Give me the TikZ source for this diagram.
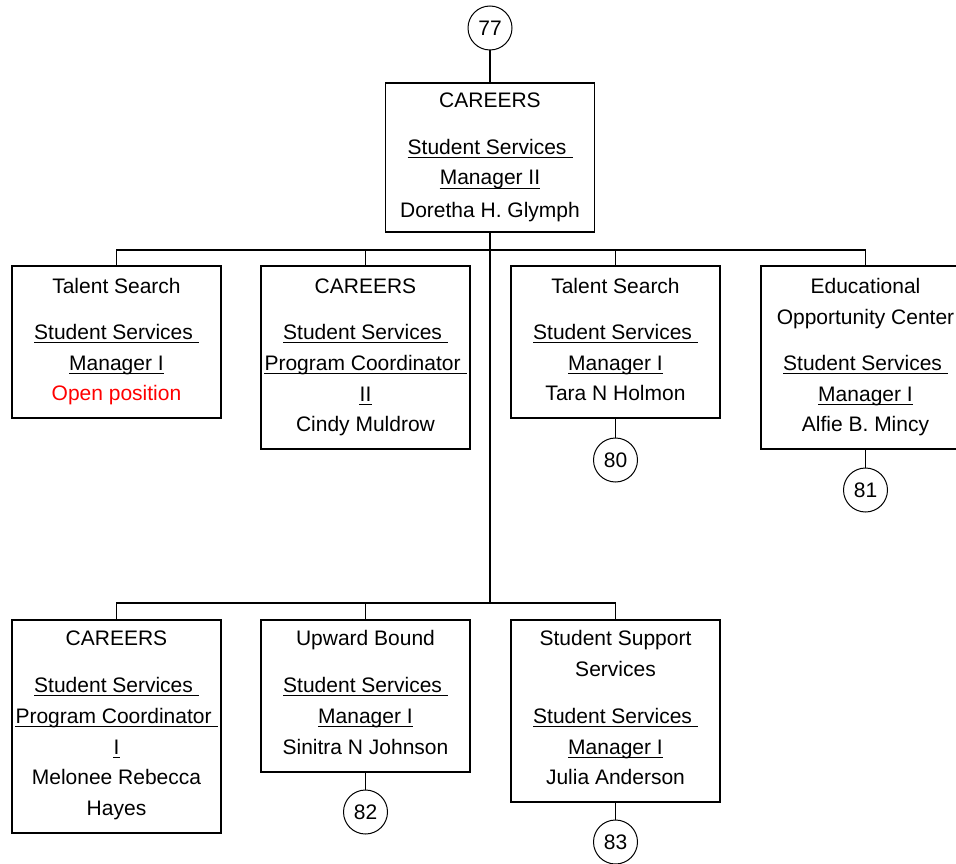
\documentclass[tikz,border=0pt]{standalone}
\usepackage{fontspec}
\setmainfont{Liberation Sans}
\tikzset{
  box/.style={draw, rectangle, line width=1.8pt, minimum width=209pt, inner sep=0pt},
  conn/.style={line width=1.8pt},
  circ/.style={draw, circle, line width=1pt, minimum size=44pt, inner sep=0pt, fill=white, font=\fontsize{21}{25}\selectfont},
  txt/.style={anchor=base, inner sep=0pt, font=\fontsize{21}{25}\selectfont},
  ulstyle/.style={line width=1.3pt},
}
\newcommand\trsp{\kern0.278em}
\newcommand\txtline[4]{\node[txt] (#1) at (#2,#3+7) {#4};}
\newcommand\ulline[4]{\node[txt] (#1) at (#2,#3+7) {#4};
  \draw[ulstyle] ([yshift=-3.5pt]#1.base west) -- ([yshift=-3.5pt]#1.base east);}
\begin{document}
\begin{tikzpicture}[x=1pt,y=-1pt]
\useasboundingbox (0,0) rectangle (956,864);
\clip (0,0) rectangle (956,864);
% boxes
\node[box, minimum height=149pt] (top) at (490,157.5) {};
\node[box, minimum height=152pt] (A) at (116.5,342) {};
\node[box, minimum height=183pt] (B) at (365.5,357.5) {};
\node[box, minimum height=152pt] (C) at (615.5,342) {};
\node[box, minimum height=183pt] (D) at (865.5,357.5) {};
\node[box, minimum height=213pt] (E) at (116.5,726.5) {};
\node[box, minimum height=152pt] (F) at (365.5,696) {};
\node[box, minimum height=182pt] (G) at (615.5,711) {};
% circles
\node[circ] (c77) at (490,28) {77};
\node[circ] (c80) at (615.5,460) {80};
\node[circ] (c81) at (865.5,490) {81};
\node[circ] (c82) at (365.5,812) {82};
\node[circ] (c83) at (615.5,842) {83};
% junctions
\coordinate (bus1) at (490,250);
\coordinate (bus2) at (490,603);
% connectors
\draw[conn] (c77.south) -- (top.north);
\draw[conn] (top.south) -- (bus2);
\draw[conn] (A.north) |- (bus1) -| (D.north);
\draw[conn] (B.north) -- (B.north |- bus1);
\draw[conn] (C.north) -- (C.north |- bus1);
\draw[conn] (E.north) |- (bus2) -| (G.north);
\draw[conn] (F.north) -- (F.north |- bus2);
\draw[conn] (C.south) -- (c80.north);
\draw[conn] (D.south) -- (c81.north);
\draw[conn] (F.south) -- (c82.north);
\draw[conn] (G.south) -- (c83.north);
% top box text
\txtline{t1}{490}{101}{CAREERS}
\ulline{t2}{490}{147}{Student Services\trsp}
\ulline{t3}{490}{178}{Manager II}
\txtline{t4}{490}{210}{Doretha H. Glymph}
% A
\txtline{a1}{116.5}{286}{Talent Search}
\ulline{a2}{116.5}{332}{Student Services\trsp}
\ulline{a3}{116.5}{363}{Manager I}
\node[txt, text=red] (a4) at (116.5,400) {Open position};
% B
\txtline{b1}{365.5}{286}{CAREERS}
\ulline{b2}{365.5}{332}{Student Services\trsp}
\ulline{b3}{365.5}{363}{Program Coordinator\trsp}
\ulline{b4}{365.5}{394}{II}
\txtline{b5}{365.5}{424}{Cindy Muldrow}
% C
\txtline{c1}{615.5}{286}{Talent Search}
\ulline{c2}{615.5}{332}{Student Services\trsp}
\ulline{c3}{615.5}{363}{Manager I}
\txtline{c4}{615.5}{393}{Tara N Holmon}
% D
\txtline{d1}{865.5}{286}{Educational}
\txtline{d2}{865.5}{317}{Opportunity Center}
\ulline{d3}{865.5}{363}{Student Services\trsp}
\ulline{d4}{865.5}{394}{Manager I}
\txtline{d5}{865.5}{424}{Alfie B. Mincy}
% E
\txtline{e1}{116.5}{638}{CAREERS}
\ulline{e2}{116.5}{685}{Student Services\trsp}
\ulline{e3}{116.5}{716}{Program Coordinator\trsp}
\ulline{e4}{116.5}{747}{I}
\txtline{e5}{116.5}{777}{Melonee Rebecca}
\txtline{e6}{116.5}{808}{Hayes}
% F
\txtline{f1}{365.5}{638}{Upward Bound}
\ulline{f2}{365.5}{685}{Student Services\trsp}
\ulline{f3}{365.5}{716}{Manager I}
\txtline{f4}{365.5}{747}{Sinitra N Johnson}
% G
\txtline{g1}{615.5}{638}{Student Support}
\txtline{g2}{615.5}{669}{Services}
\ulline{g3}{615.5}{716}{Student Services\trsp}
\ulline{g4}{615.5}{747}{Manager I}
\txtline{g5}{615.5}{777}{Julia Anderson}
\end{tikzpicture}
\end{document}
